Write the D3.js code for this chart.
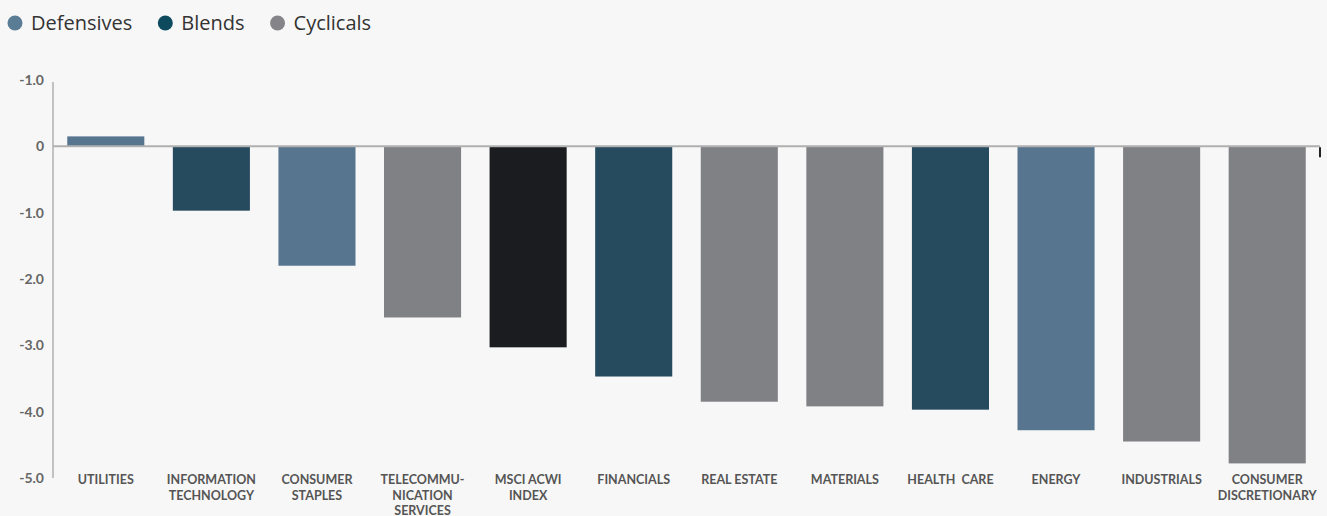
<!DOCTYPE html>
<meta charset="utf-8">
<script src="https://d3js.org/d3.v7.min.js"></script>
<style>
  body { margin: 0; background: #f7f7f7; }
</style>
<div id="chart"></div>
<script>
// data
const sectors = ["UTILITIES", "INFORMATION TECHNOLOGY", "CONSUMER STAPLES", "TELECOMMU- NICATION SERVICES",
  "MSCI ACWI INDEX", "FINANCIALS", "REAL ESTATE", "MATERIALS", "HEALTH  CARE", "ENERGY", "INDUSTRIALS",
  "CONSUMER DISCRETIONARY"];
const labelLines = [["UTILITIES"], ["INFORMATION", "TECHNOLOGY"], ["CONSUMER", "STAPLES"],
  ["TELECOMMU-", "NICATION", "SERVICES"], ["MSCI ACWI", "INDEX"], ["FINANCIALS"], ["REAL ESTATE"],
  ["MATERIALS"], ["HEALTH  CARE"], ["ENERGY"], ["INDUSTRIALS"], ["CONSUMER", "DISCRETIONARY"]];
const values = [0.15, -0.97, -1.8, -2.58, -3.03, -3.47, -3.85, -3.92, -3.97, -4.28, -4.45, -4.78];
const groups = ["Defensives", "Blends", "Defensives", "Cyclicals", "Index", "Blends", "Cyclicals",
  "Cyclicals", "Blends", "Defensives", "Cyclicals", "Cyclicals"];
const tickValues = [1, 0, -1, -2, -3, -4, -5];
const tickLabels = ["-1.0", "0", "-1.0", "-2.0", "-3.0", "-4.0", "-5.0"];
const legendItems = ["Defensives", "Blends", "Cyclicals"];

const barColor = {Defensives: "#587590", Blends: "#264a5e", Cyclicals: "#808185", Index: "#1b1c1f"};
const legendColor = {Defensives: "#5a7c95", Blends: "#0d4a5e", Cyclicals: "#858589"};

const W = 1327, H = 516;
const svg = d3.select("#chart").append("svg")
  .attr("width", W).attr("height", H)
  .style("font-family", "'Open Sans', sans-serif");

svg.append("rect").attr("width", W).attr("height", H).attr("fill", "#f7f7f7");

const x = d3.scaleBand().domain(sectors).range([53, 1320]).paddingInner(0.27).paddingOuter(0.135);
const y = d3.scaleLinear().domain([-5, 1]).range([478, 80]);

// legend
let lx = 15;
const legend = svg.append("g");
legendItems.forEach(function(name) {
  legend.append("circle").attr("cx", lx).attr("cy", 23).attr("r", 7.5).attr("fill", legendColor[name]);
  const t = legend.append("text").attr("x", lx + 16).attr("y", 30)
    .attr("font-size", "20px").attr("fill", "#333").text(name);
  lx += t.node().getComputedTextLength() + 49;
});

// y axis line
svg.append("line").attr("x1", 53).attr("x2", 53).attr("y1", 82).attr("y2", y(-5))
  .attr("stroke", "#b0b0b0").attr("stroke-width", 1.5);

// tick labels
svg.selectAll("text.tick").data(tickValues).join("text")
  .attr("class", "tick")
  .attr("x", 44).attr("y", d => y(d) + 5)
  .attr("text-anchor", "end").attr("font-size", "14px").attr("fill", "#666")
  .attr("font-family", "Lato, sans-serif").attr("font-weight", "bold")
  .text((d, i) => tickLabels[i]);

// bars
svg.selectAll("rect.bar").data(values).join("rect")
  .attr("class", "bar")
  .attr("x", (d, i) => x(sectors[i]))
  .attr("width", x.bandwidth())
  .attr("y", d => y(Math.max(0, d)))
  .attr("height", d => Math.abs(y(d) - y(0)))
  .attr("fill", (d, i) => barColor[groups[i]]);

// zero line
svg.append("line").attr("x1", 53).attr("x2", 1320).attr("y1", y(0)).attr("y2", y(0))
  .attr("stroke", "#b0b0b0").attr("stroke-width", 2);
svg.append("line").attr("x1", 1320).attr("x2", 1320).attr("y1", y(0) + 1).attr("y2", y(0) + 11)
  .attr("stroke", "#222").attr("stroke-width", 2);

// category labels
const lab = svg.selectAll("text.cat").data(labelLines).join("text")
  .attr("class", "cat")
  .attr("text-anchor", "middle")
  .attr("font-size", "12.5px").attr("font-weight", "bold").attr("fill", "#555")
  .attr("font-family", "Lato, sans-serif");
lab.each(function(lines, i) {
  const cx = x(sectors[i]) + x.bandwidth() / 2;
  d3.select(this).selectAll("tspan").data(lines).join("tspan")
    .attr("x", cx).attr("y", (d, j) => 484 + j * 15.5)
    .attr("xml:space", "preserve")
    .text(d => d);
});
</script>
